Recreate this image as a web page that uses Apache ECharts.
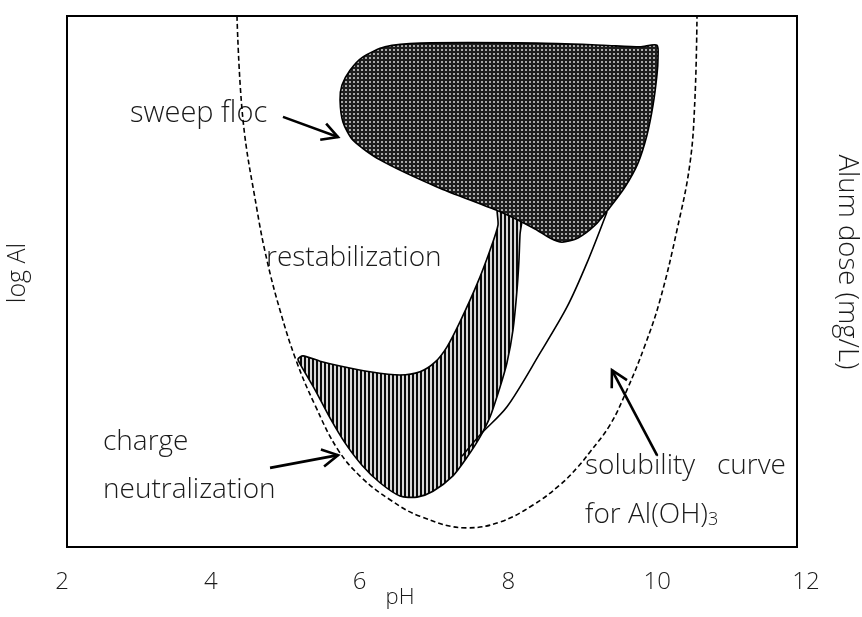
<!DOCTYPE html>
<html>
<head>
<meta charset="utf-8">
<script src="https://cdn.jsdelivr.net/npm/echarts@6/dist/echarts.min.js"></script>
<style>
html,body{margin:0;padding:0;background:#fff;}
#chart{width:862px;height:617px;}
</style>
</head>
<body>
<div id="chart"></div>
<script>
// ---- data (pH, relative log Al 0..100) ----
const pHTicks = [2, 4, 6, 8, 10, 12];

const solubilityCurve = [
  [4.352, 100], [4.433, 80.4], [4.621, 63.5], [4.755, 54.0], [4.930, 44.6],
  [5.145, 35.2], [5.401, 26.7], [5.710, 18.3], [6.032, 13.0], [6.409, 8.9],
  [6.812, 5.8], [7.444, 3.6], [7.887, 4.7], [8.331, 7.9], [8.694, 11.7],
  [8.922, 14.9], [9.097, 17.9], [9.366, 23.0], [9.594, 29.6], [9.836, 38.0],
  [10.038, 46.5], [10.266, 59.7], [10.441, 72.3], [10.508, 84.7], [10.535, 100]
];

const sweepFloc = [
  [5.737, 84.2], [5.763, 87.0], [5.871, 89.8], [6.046, 92.3], [6.341, 94.2],
  [6.812, 94.9], [8.384, 94.9], [9.272, 94.5], [9.769, 94.2], [9.997, 94.5],
  [10.011, 92.1], [9.997, 88.9], [9.944, 83.2], [9.863, 77.6], [9.742, 72.3],
  [9.567, 67.8], [9.366, 64.0], [9.164, 60.6], [8.935, 58.2], [8.720, 57.4],
  [8.559, 58.2], [8.358, 59.9], [7.927, 62.9], [7.040, 67.8], [6.274, 72.9],
  [5.911, 76.6], [5.777, 80.0]
];

const chargeNeutralization = [
  [7.860, 64.4], [8.183, 64.0], [8.156, 58.8], [8.142, 54.0], [8.116, 48.4],
  [8.062, 40.9], [7.981, 34.7], [7.887, 30.1], [7.753, 24.5], [7.618, 20.7],
  [7.444, 16.9], [7.255, 13.4], [6.987, 10.5], [6.772, 9.4], [6.543, 9.6],
  [6.274, 12.1], [6.032, 15.4], [5.804, 19.6], [5.602, 24.3], [5.401, 29.6],
  [5.199, 34.5], [5.172, 35.4], [5.239, 36.0], [5.468, 35.0], [5.737, 34.1],
  [6.140, 33.0], [6.543, 32.4], [6.812, 33.0], [7.013, 34.8], [7.175, 37.7],
  [7.349, 42.4], [7.578, 49.5], [7.753, 55.9], [7.860, 60.6]
];

const restabBoundary = [
  [7.376, 17.1], [7.618, 21.1], [7.981, 26.4], [8.425, 36.5],
  [8.788, 45.2], [9.056, 53.5], [9.325, 63.1]
];

// arrows: [fromPH, fromY, toPH, toY]
const arrows = [
  [4.970, 81.0, 5.710, 77.2],
  [4.796, 14.9, 5.710, 17.3],
  [9.997, 17.3, 9.392, 33.3]
];

// ---- patterns ----
function dotPattern() {
  const c = document.createElement('canvas');
  c.width = 4; c.height = 4;
  const g = c.getContext('2d');
  g.fillStyle = '#1e1e1e';
  g.fillRect(0, 0, 4, 4);
  g.fillStyle = '#d8d8d8';
  g.beginPath(); g.arc(2, 2, 1, 0, Math.PI * 2); g.fill();
  return c;
}
function stripePattern() {
  const c = document.createElement('canvas');
  c.width = 4; c.height = 4;
  const g = c.getContext('2d');
  g.fillStyle = '#d8d8d8';
  g.fillRect(0, 0, 4, 4);
  g.fillStyle = '#0a0a0a';
  g.fillRect(0, 0, 2, 4);
  return c;
}
const dotFill = { image: dotPattern(), repeat: 'repeat' };
const stripeFill = { image: stripePattern(), repeat: 'repeat' };

function polygonSeries(points, fill, z) {
  return {
    type: 'custom',
    xAxisIndex: 0, yAxisIndex: 0,
    coordinateSystem: 'cartesian2d',
    data: points,
    renderItem: function (params, api) {
      if (params.dataIndex !== 0) return null;
      const pts = points.map(p => api.coord(p));
      return {
        type: 'polygon',
        shape: { points: pts, smooth: 0.25 },
        style: { fill: fill, stroke: '#000', lineWidth: 1.6 }
      };
    },
    silent: true,
    z: z
  };
}

const font = '"Open Sans", "DejaVu Sans", sans-serif';
const txtColor = '#1a1a1a';
const tf = (s) => '300 ' + s + 'px ' + font;

const chart = echarts.init(document.getElementById('chart'), null, { renderer: 'canvas' });
chart.setOption({
  animation: false,
  backgroundColor: '#fff',
  grid: [
    { left: 62, right: 56, top: 16, bottom: 70, show: false, outerBoundsMode: 'none', containLabel: false },
    { left: 67, width: 730, top: 16, height: 531, show: true, borderColor: '#000', borderWidth: 2,
      backgroundColor: 'transparent', outerBoundsMode: 'none', containLabel: false }
  ],
  xAxis: [
    {
      gridIndex: 0, type: 'value', min: pHTicks[0], max: pHTicks[pHTicks.length - 1], interval: 2,
      axisLine: { show: false }, axisTick: { show: false }, splitLine: { show: false },
      axisLabel: { show: true, fontSize: 24, fontWeight: 300, color: txtColor, fontFamily: font, margin: 23 },
      name: 'pH', nameLocation: 'middle', nameGap: 40, nameMoveOverlap: false,
      nameTextStyle: { fontSize: 22, fontWeight: 300, color: txtColor, fontFamily: font, padding: [0, 68, 0, 0] }
    },
    { gridIndex: 1, type: 'value', show: false, min: 0, max: 1 }
  ],
  yAxis: [
    { gridIndex: 0, type: 'value', min: 0, max: 100, show: false },
    { gridIndex: 1, type: 'value', show: false, min: 0, max: 1 }
  ],
  series: [
    {
      type: 'line', xAxisIndex: 0, yAxisIndex: 0,
      data: solubilityCurve, smooth: 0.4, symbol: 'none',
      lineStyle: { color: '#000', width: 1.6, type: [5, 3] },
      z: 2, silent: true
    },
    polygonSeries(chargeNeutralization, stripeFill, 3),
    polygonSeries(sweepFloc, dotFill, 4),
    {
      type: 'line', xAxisIndex: 0, yAxisIndex: 0,
      data: restabBoundary, smooth: 0.3, symbol: 'none',
      lineStyle: { color: '#000', width: 1.6 },
      z: 5, silent: true
    },
    {
      type: 'custom', xAxisIndex: 0, yAxisIndex: 0,
      data: arrows,
      encode: { x: [0, 2], y: [1, 3] },
      renderItem: function (params, api) {
        const a = api.coord([api.value(0), api.value(1)]);
        const b = api.coord([api.value(2), api.value(3)]);
        const ang = Math.atan2(b[1] - a[1], b[0] - a[0]);
        const L = 18, sp = 0.5;
        const h1 = [b[0] - L * Math.cos(ang - sp), b[1] - L * Math.sin(ang - sp)];
        const h2 = [b[0] - L * Math.cos(ang + sp), b[1] - L * Math.sin(ang + sp)];
        return {
          type: 'group',
          children: [
            { type: 'polyline', shape: { points: [a, b] }, style: { stroke: '#000', lineWidth: 2.6, fill: null } },
            { type: 'polyline', shape: { points: [h1, b, h2] }, style: { stroke: '#000', lineWidth: 2.6, fill: null, lineJoin: 'miter' } }
          ]
        };
      },
      z: 6, silent: true
    }
  ],
  graphic: [
    { type: 'text', left: 130, top: 99, style: { text: 'sweep floc', font: tf(29), fill: txtColor } },
    { type: 'text', left: 266, top: 244, style: { text: 'restabilization', font: tf(28), fill: txtColor } },
    { type: 'text', left: 103, top: 428, style: { text: 'charge', font: tf(28), fill: txtColor } },
    { type: 'text', left: 103, top: 476, style: { text: 'neutralization', font: tf(28), fill: txtColor } },
    { type: 'text', left: 585, top: 452, style: { text: 'solubility   curve', font: tf(28), fill: txtColor } },
    {
      type: 'text', left: 585, top: 501,
      style: {
        text: 'for Al(OH){sub|3}', font: tf(28), fill: txtColor,
        rich: { sub: { fontSize: 18, fontWeight: 300, fontFamily: font, fill: txtColor, verticalAlign: 'bottom', lineHeight: 20 } }
      }
    },
    { type: 'text', x: 18, y: 273, rotation: Math.PI / 2,
      style: { text: 'log Al', font: tf(25), fill: txtColor, align: 'center', verticalAlign: 'middle' } },
    { type: 'text', x: 847, y: 262, rotation: -Math.PI / 2,
      style: { text: 'Alum dose (mg/L)', font: tf(27.5), fill: txtColor, align: 'center', verticalAlign: 'middle' } }
  ]
});
</script>
</body>
</html>
